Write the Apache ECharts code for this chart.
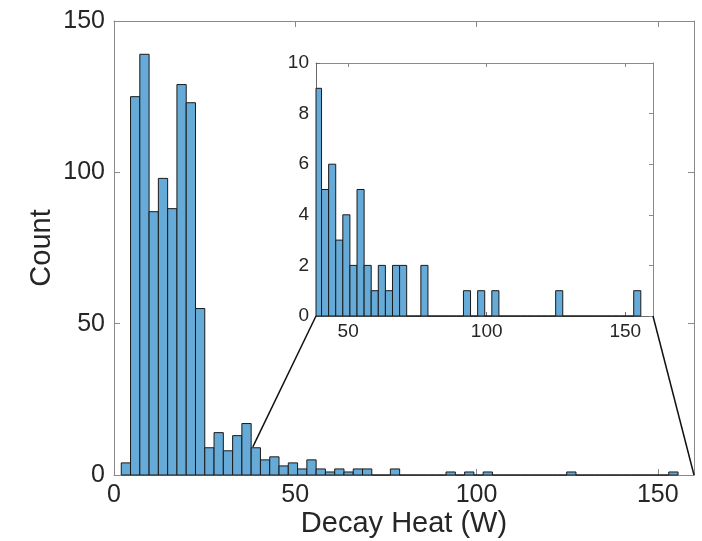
<!DOCTYPE html>
<html>
<head>
<meta charset="utf-8">
<script src="https://cdn.jsdelivr.net/npm/echarts@6/dist/echarts.min.js"></script>
<style>
html,body{margin:0;padding:0;background:#fff;}
#chart{width:702px;height:541px;}
</style>
</head>
<body>
<div id="chart"></div>
<script>
// ---- data ----
var binStart = 2.0;
var binWidth = 2.56;
var counts = [4,125,139,87,98,88,129,123,55,9,
              14,8,13,17,9,5,6,3,4,2,
              5,2,1,2,1,2,2,0,0,2,
              0,0,0,0,0,1,0,1,0,1,
              0,0,0,0,0,0,0,0,1,0,
              0,0,0,0,0,0,0,0,0,1];
var mainXTicks = [0,50,100,150];
var mainYTicks = [0,50,100,150];
var insetXTicks = [50,100,150];
var insetYTicks = [0,2,4,6,8,10];
var mainXRange = [0,160];
var mainYRange = [0,150];
var insetXRange = [38.4,160];
var insetYRange = [0,10];
var zoomAnchor = [38.3, 9.3];
var xTitle = 'Decay Heat (W)';
var yTitle = 'Count';

// ---- build ----
var bins = counts.map(function(c,k){ return [binStart + binWidth*k, binStart + binWidth*(k+1), c]; });
var insetBins = bins.filter(function(b){ return b[1] > insetXRange[0]; });

var FONT = '"Liberation Sans", Arial, Helvetica, sans-serif';
var TXT = '#262626';
var FILL = '#66aad7';
var EDGE = '#1a1a1a';

function makeRender(clipMin){
  return function(params, api){
    var x0 = api.value(0), x1 = api.value(1), c = api.value(2);
    if (clipMin !== null) x0 = Math.max(x0, clipMin);
    var p0 = api.coord([x0, 0]);
    var p1 = api.coord([x1, c]);
    return {type:'rect', shape:{x:p0[0], y:p1[1], width:p1[0]-p0[0], height:p0[1]-p1[1]},
            style:{fill:FILL, stroke:EDGE, lineWidth:1}};
  };
}

function xAx(grid, range, ticks, pos, showLabels, fs, tickLen, col, margin){
  return {type:'value', gridIndex:grid, position:pos, min:range[0], max:range[1],
    splitLine:{show:false},
    axisLine:{show:true, onZero:false, lineStyle:{color:col, width:1}},
    axisTick:{show:true, inside:true, length:tickLen, customValues:ticks, lineStyle:{color:col}},
    axisLabel:{show:showLabels, customValues:ticks, color:TXT, fontSize:fs, fontFamily:FONT, margin:margin}
  };
}
function yAx(grid, range, ticks, pos, showLabels, fs, tickLen, col, margin, interval){
  return {type:'value', gridIndex:grid, position:pos, min:range[0], max:range[1], interval:interval,
    splitLine:{show:false},
    axisLine:{show:true, onZero:false, lineStyle:{color:col, width:1}},
    axisTick:{show:true, inside:true, length:tickLen, lineStyle:{color:col}},
    axisLabel:{show:showLabels, color:TXT, fontSize:fs, fontFamily:FONT, margin:margin}
  };
}

var chart = echarts.init(document.getElementById('chart'), null, {renderer:'canvas'});

var xMain = xAx(0, mainXRange, mainXTicks, 'bottom', true, 25, 6, '#8a8a8a', 8);
xMain.name = xTitle; xMain.nameLocation = 'middle'; xMain.nameGap = 34; xMain.nameMoveOverlap = false;
xMain.nameTextStyle = {color:TXT, fontSize:29, fontFamily:FONT};
var yMain = yAx(0, mainYRange, mainYTicks, 'left', true, 25, 6, '#8a8a8a', 9, 50);
yMain.name = yTitle; yMain.nameLocation = 'middle'; yMain.nameGap = 58; yMain.nameMoveOverlap = false;
yMain.nameTextStyle = {color:TXT, fontSize:29, fontFamily:FONT};

var option = {
  animation:false,
  backgroundColor:'#ffffff',
  grid:[
    {left:114, top:21, right:8, bottom:66, containLabel:false, outerBoundsMode:'none'},
    {left:316, top:63, right:49, bottom:225, containLabel:false, outerBoundsMode:'none', show:true, backgroundColor:'#ffffff', borderWidth:0, z:5}
  ],
  xAxis:[
    xMain,
    xAx(0, mainXRange, mainXTicks, 'top', false, 25, 6, '#8a8a8a', 8),
    Object.assign(xAx(1, insetXRange, insetXTicks, 'bottom', true, 19, 4, '#6a6a6a', 6), {z:6}),
    Object.assign(xAx(1, insetXRange, insetXTicks, 'top', false, 19, 4, '#8a8a8a', 6), {z:6})
  ],
  yAxis:[
    yMain,
    yAx(0, mainYRange, mainYTicks, 'right', false, 25, 6, '#8a8a8a', 9, 50),
    Object.assign(yAx(1, insetYRange, insetYTicks, 'left', true, 19, 4, '#6a6a6a', 7, 2), {z:6}),
    Object.assign(yAx(1, insetYRange, insetYTicks, 'right', false, 19, 4, '#8a8a8a', 7, 2), {z:6})
  ],
  series:[
    {type:'custom', xAxisIndex:0, yAxisIndex:0, renderItem:makeRender(null), data:bins,
     encode:{x:[0,1], y:2}, z:2},
    {type:'custom', xAxisIndex:2, yAxisIndex:2, renderItem:makeRender(insetXRange[0]), data:insetBins,
     encode:{x:[0,1], y:2}, z:7}
  ]
};
chart.setOption(option);

var a1 = chart.convertToPixel({xAxisIndex:0, yAxisIndex:0}, zoomAnchor);
var b1 = chart.convertToPixel({xAxisIndex:2, yAxisIndex:2}, [insetXRange[0], insetYRange[0]]);
var a2 = chart.convertToPixel({xAxisIndex:0, yAxisIndex:0}, [mainXRange[1], mainYRange[0]]);
var b2 = chart.convertToPixel({xAxisIndex:2, yAxisIndex:2}, [insetXRange[1], insetYRange[0]]);
chart.setOption({graphic:[
  {type:'line', z:100, shape:{x1:a1[0], y1:a1[1], x2:b1[0], y2:b1[1]}, style:{stroke:'#111', lineWidth:1.5}},
  {type:'line', z:100, shape:{x1:a2[0], y1:a2[1], x2:b2[0], y2:b2[1]}, style:{stroke:'#111', lineWidth:1.5}}
]});
</script>
</body>
</html>
